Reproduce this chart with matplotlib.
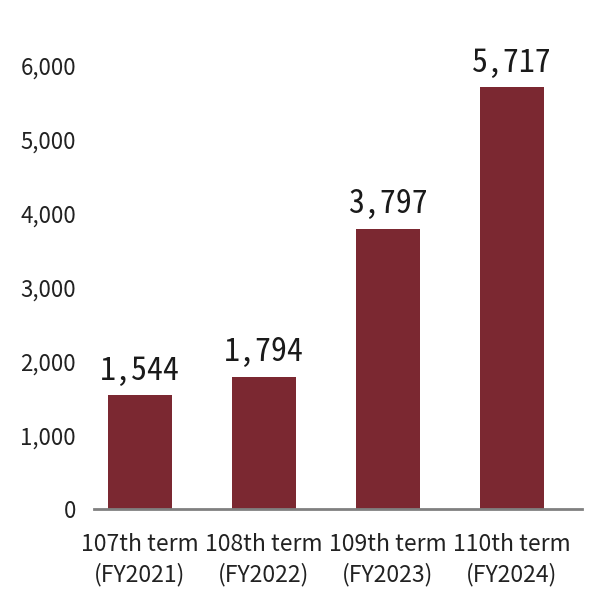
import matplotlib
matplotlib.use("Agg")
import matplotlib.pyplot as plt
from matplotlib.ticker import FuncFormatter

categories = ["107th term\n(FY2021)", "108th term\n(FY2022)", "109th term\n(FY2023)", "110th term\n(FY2024)"]
values = [1544, 1794, 3797, 5717]
yticks = [0, 1000, 2000, 3000, 4000, 5000, 6000]

plt.rcParams['font.family'] = ['Noto Sans CJK JP', 'DejaVu Sans']

fig = plt.figure(figsize=(6, 5.9), dpi=100)
ax = fig.add_axes([94/600, 1-509/590, (582-94)/600, (509-66)/590])

x = list(range(len(categories)))
bars = ax.bar(x, values, width=0.516, color="#7B2831")

ax.set_ylim(0, 6000)
ax.set_xlim(-0.371, 3.565)
ax.set_yticks(yticks)
ax.yaxis.set_major_formatter(FuncFormatter(lambda v, p: f"{int(v):,}"))
ax.set_xticks(x)
ax.set_xticklabels(categories, fontsize=16.5, color="#222222", linespacing=1.36)
ax.tick_params(axis='y', length=0, labelsize=16, labelcolor="#222222", pad=13)
ax.tick_params(axis='x', length=0, pad=17)

for s in ['top', 'right', 'left']:
    ax.spines[s].set_visible(False)
ax.spines['bottom'].set_color("#808080")
ax.spines['bottom'].set_linewidth(2)

for xi, v in zip(x, values):
    ax.annotate(f"{v:,}", (xi, v), xytext=(0, 6), textcoords="offset points",
                ha="center", va="bottom", fontsize=23, color="#1a1a1a",
                family=['Noto Sans Mono CJK JP', 'DejaVu Sans Mono'],
                fontweight='light', clip_on=False)

fig.savefig("out.png", dpi=100)
